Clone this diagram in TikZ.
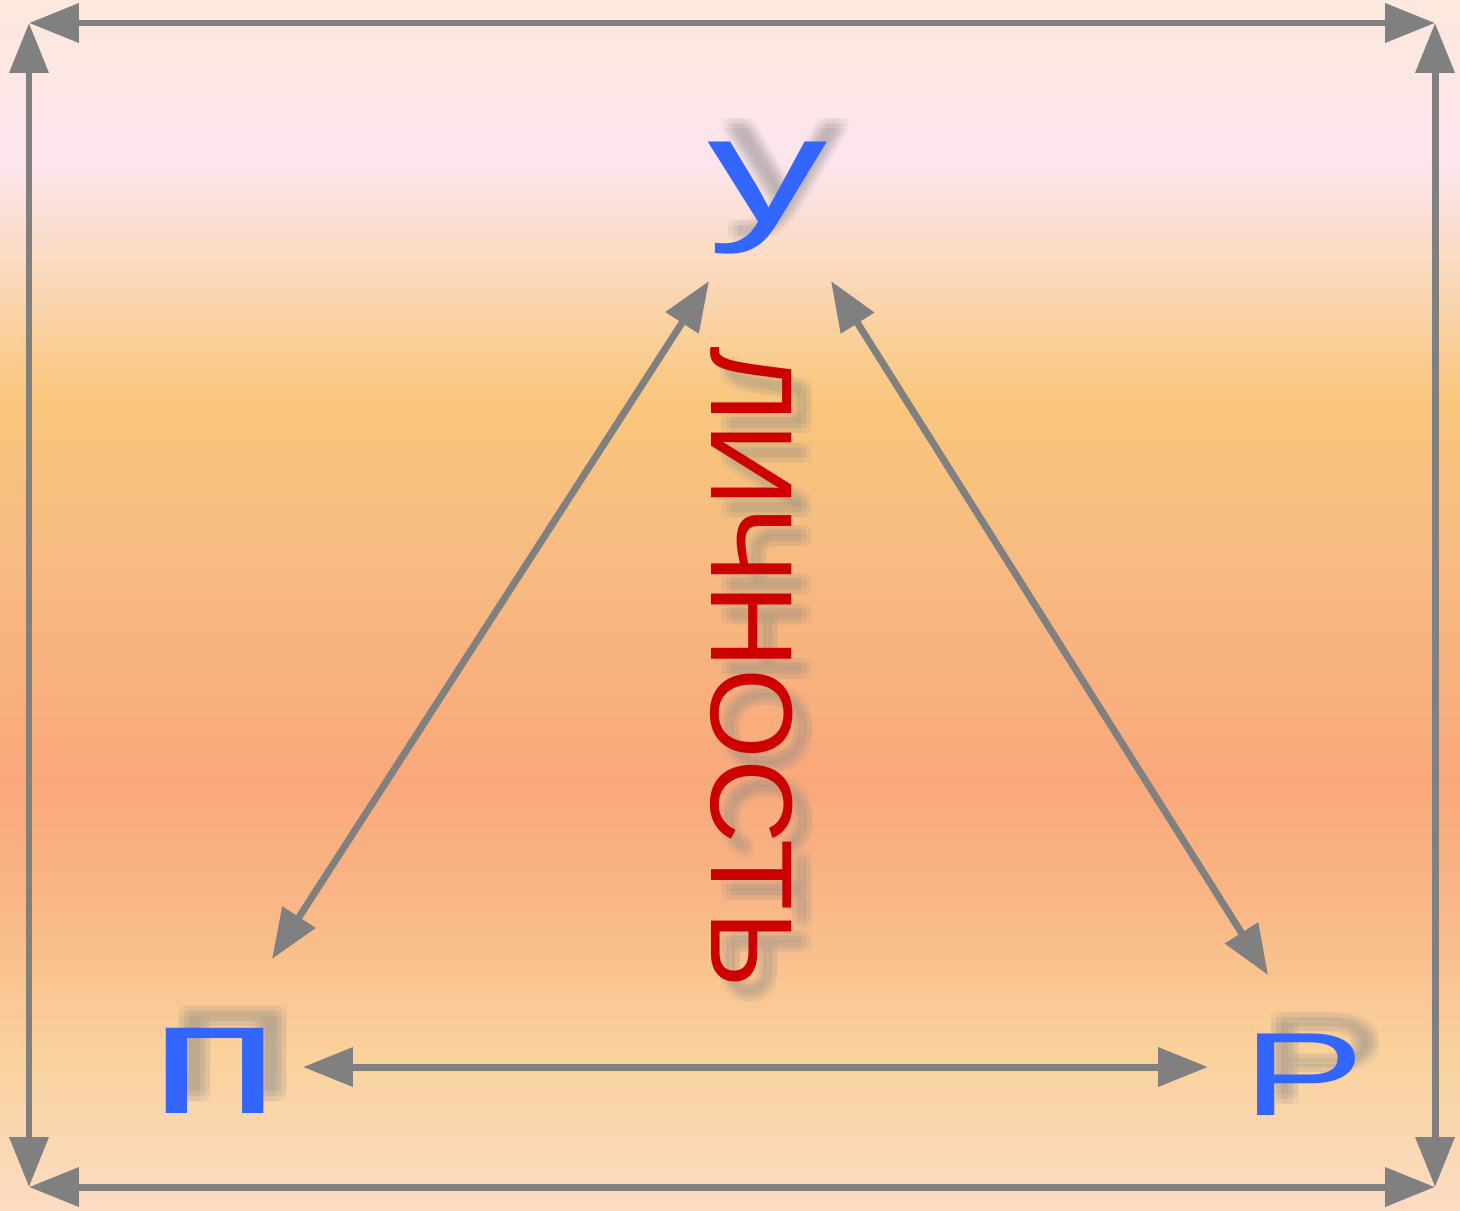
\documentclass[tikz,border=0pt]{standalone}
\usepackage{fontspec}
\setmainfont{Liberation Sans}
\usetikzlibrary{arrows.meta}
\definecolor{bgA}{HTML}{FCE8DC}
\definecolor{bgB}{HTML}{FDE5EE}
\definecolor{bgC}{HTML}{FBDCC6}
\definecolor{bgD}{HTML}{F9C67C}
\definecolor{bgE}{HTML}{F8BB82}
\definecolor{bgF}{HTML}{F9A87B}
\definecolor{bgG}{HTML}{F9B686}
\definecolor{bgH}{HTML}{FAD19B}
\definecolor{bgI}{HTML}{FBDCC4}
\definecolor{arrgray}{HTML}{808080}
\definecolor{letblue}{HTML}{3366FF}
\definecolor{letred}{HTML}{CC0000}
\definecolor{shadowgray}{HTML}{8C8C8C}
\pgfdeclareverticalshading{bgshade}{100bp}{%
  color(0bp)=(bgI); color(25bp)=(bgI); color(31.6bp)=(bgH); color(37.8bp)=(bgG);
  color(42.8bp)=(bgF); color(51.9bp)=(bgE); color(58.5bp)=(bgD); color(64.7bp)=(bgC);
  color(68.4bp)=(bgB); color(75bp)=(bgA); color(100bp)=(bgA)}
\tikzset{
  conn/.style={draw=arrgray, line width=7pt, {Triangle[length=50pt,width=38pt]}-{Triangle[length=50pt,width=38pt]}},
  letter/.style={inner sep=0pt, text=letblue},
  shad/.style={inner sep=0pt, text=shadowgray, opacity=0.08},
}
\newcommand{\shadowcopies}[4]{% #1 pos x, #2 pos y, #3 options, #4 text
  \foreach \dx in {-5,0,5}{\foreach \dy in {-5,0,5}{
    \node[shad,#3] at (#1+\dx,#2+\dy) {#4};}}}
\begin{document}
\begin{tikzpicture}[x=1bp,y=-1bp]
\useasboundingbox (0,0) rectangle (1460,1210);
\shade[shading=bgshade] (0,1210) rectangle (1460,0);
% shadows
\shadowcopies{786}{180}{}{\fontsize{153}{153}\selectfont\scalebox{1.58}[1]{у}}
\shadowcopies{233}{1054}{}{\fontsize{162}{162}\selectfont\scalebox{1.5}[1]{п}}
\shadowcopies{1323}{1059}{}{\fontsize{119}{119}\selectfont\scalebox{1.55}[1]{Р}}
\shadowcopies{767}{682}{rotate=-90}{\fontsize{117}{117}\selectfont ЛИЧНОСТЬ}
% letters
\node[letter] (U) at (768,198) {\fontsize{153}{153}\selectfont\scalebox{1.58}[1]{у}};
\node[letter] (P) at (215,1071) {\fontsize{162}{162}\selectfont\scalebox{1.5}[1]{п}};
\node[letter] (R) at (1304,1075) {\fontsize{119}{119}\selectfont\scalebox{1.55}[1]{Р}};
\node[inner sep=0pt, text=letred, rotate=-90] (L) at (752,667) {\fontsize{117}{117}\selectfont ЛИЧНОСТЬ};
% connector ends
\coordinate (tl) at (29,23);
\coordinate (tr) at (1435,23);
\coordinate (bl) at (29,1187);
\coordinate (br) at (1435,1187);
\coordinate (Ul) at (709,281);
\coordinate (Ur) at (831,281);
\coordinate (Pt) at (272,959);
\coordinate (Rt) at (1268,975);
\coordinate (Pr) at (303,1067);
\coordinate (Rl) at (1208,1067);
% frame
\draw[conn] (tl) -- (tr);
\draw[conn] (bl) -- (br);
\draw[conn] (tl) -- (bl);
\draw[conn] (tr) -- (br);
% triangle
\draw[conn] (Ul) -- (Pt);
\draw[conn] (Ur) -- (Rt);
\draw[conn] (Pr) -- (Rl);
\end{tikzpicture}
\end{document}
